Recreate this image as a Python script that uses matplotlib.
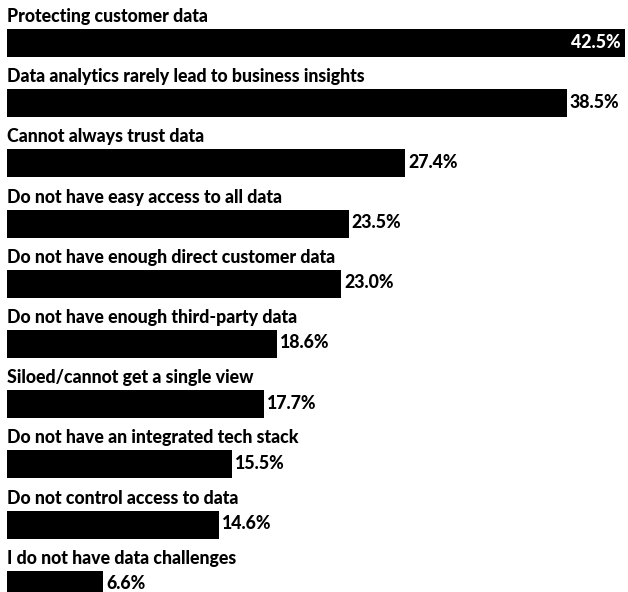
import numpy as np
import matplotlib
matplotlib.use("Agg")
import matplotlib.pyplot as plt

categories = [
    "Protecting customer data",
    "Data analytics rarely lead to business insights",
    "Cannot always trust data",
    "Do not have easy access to all data",
    "Do not have enough direct customer data",
    "Do not have enough third-party data",
    "Siloed/cannot get a single view",
    "Do not have an integrated tech stack",
    "Do not control access to data",
    "I do not have data challenges",
]
values = [42.5, 38.5, 27.4, 23.5, 23.0, 18.6, 17.7, 15.5, 14.6, 6.6]

W, H = 628, 592
fig = plt.figure(figsize=(W / 100, H / 100), dpi=100)
ax = fig.add_axes([7 / W, 0, 618 / W, 1])
ax.set_xlim(0, 42.5)
ax.set_ylim(H, 0)
ax.axis("off")

font = ["Lato", "Liberation Sans", "DejaVu Sans"]
pitch = 60.2
bar_h = 28
for i, (cat, val) in enumerate(zip(categories, values)):
    yc = 43 + pitch * i
    ax.barh(yc, val, height=bar_h, color="black")
    ax.text(0, yc - bar_h / 2 - 7, cat, fontsize=12.8, fontweight="black",
            family=font, va="baseline", ha="left", color="black")
    if i == 0:
        ax.text(val - 0.3, yc, f"{val:.1f}%", fontsize=12.8, fontweight="black",
                family=font, va="center", ha="right", color="white")
    else:
        ax.text(val + 0.2, yc - 1, f"{val:.1f}%", fontsize=12.8, fontweight="black",
                family=font, va="center", ha="left", color="black")

fig.savefig("out.png", dpi=100)
